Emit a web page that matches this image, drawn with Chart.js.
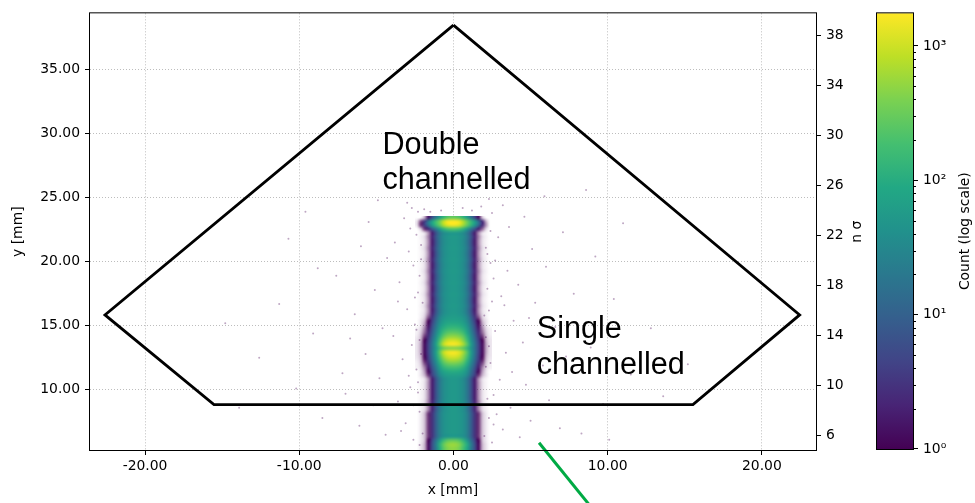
<!DOCTYPE html>
<html><head><meta charset="utf-8">
<script src="https://cdn.jsdelivr.net/npm/chart.js@4.4.1/dist/chart.umd.min.js"></script>
<style>
html,body{margin:0;padding:0;background:#fff;}
#wrap{position:relative;width:975px;height:503px;overflow:hidden;background:#fff;}
#main{position:absolute;left:0;top:0;}
#cbar{position:absolute;left:860px;top:0;}
</style></head><body>
<div id="wrap"><canvas id="main" width="975" height="503"></canvas><canvas id="cbar" width="115" height="503"></canvas></div>
<script>
// ---------- data ----------
const X_TICKS = [-20, -10, 0, 10, 20];
const Y_TICKS = [10, 15, 20, 25, 30, 35];
const NSIGMA_TICKS = [6, 10, 14, 18, 22, 26, 30, 34, 38];
const CB_MAJOR = [1, 10, 100, 1000];
const CB_MAJOR_LABELS = ['10\u2070', '10\u00b9', '10\u00b2', '10\u00b3'];
const CB_MINOR = [2,3,4,5,6,7,8,9,20,30,40,50,60,70,80,90,200,300,400,500,600,700,800,900];
const CB_MIN = 1, CB_MAX = 1750;

const X_RANGE = [-23.57, 23.51];
const Y_RANGE = [5.31, 39.38];
const NSIGMA_RANGE = [4.82, 39.76];

// histogram bin edges (mm)
const X_EDGES = [-2.5,-2.25,-2,-1.75,-1.5,-1.25,-1,-0.75,-0.5,-0.25,0,0.25,0.5,0.75,1,1.25,1.5,1.75,2,2.25,2.5];
const Y_EDGES = [5.3,5.6,5.9,6.2,6.5,6.8,7.1,7.4,7.7,8.0,8.3,8.6,8.9,9.2,9.5,9.8,10.1,10.4,10.7,11.0,11.3,11.6,11.9,12.2,12.5,12.8,13.1,13.4,13.7,14.0,14.3,14.6,14.9,15.2,15.5,15.8,16.1,16.4,16.7,17.0,17.3,17.6,17.9,18.2,18.5,18.8,19.1,19.4,19.7,20.0,20.3,20.6,20.9,21.2,21.5,21.8,22.1,22.4,22.7,23.0,23.3,23.6];

// counts per row profile
const SHAFT_A = [0,.04,.12,.45,1.8,7,20,36,46,52,52,46,36,20,7,1.8,.45,.12,.04,0];
const SHAFT_B = [0,.05,.15,.5,2.2,8,22,38,48,54,54,48,38,22,8,2.2,.5,.15,.05,0];
const SHAFT_W = [0,.08,.25,.8,3,10,26,42,50,55,55,50,42,26,10,3,.8,.25,.08,0];

const COUNTS = [
  [0,.1,.3,1.2,6,22,100,260,420,490,470,360,190,85,22,6,1.2,.3,.1,0],
  [0,.1,.3,1.2,6,25,120,300,480,560,540,420,220,100,25,6,1.2,.3,.1,0],
  [0,.08,.25,1,5,18,65,160,260,300,290,230,130,55,16,4.5,1,.25,.08,0],
  SHAFT_W, SHAFT_W, SHAFT_W, SHAFT_W, SHAFT_W, SHAFT_W,
  SHAFT_W, SHAFT_B, SHAFT_B, SHAFT_B,
  SHAFT_A, SHAFT_A, SHAFT_A, SHAFT_A, SHAFT_A, SHAFT_A,
  [0,.1,.3,.8,4,12,32,52,62,66,66,62,52,32,12,4,.8,.3,.1,0],
  [0,.1,.4,1.2,5,16,45,75,95,102,100,94,74,44,16,5,1.2,.4,.1,0],
  [.05,.15,.5,1.8,7,22,65,125,165,180,178,160,120,62,22,7,1.8,.5,.15,.05],
  [.05,.2,.7,2.5,10,32,105,220,310,350,345,300,210,100,32,10,2.5,.7,.2,.05],
  [.08,.25,.9,3.5,13,45,160,380,600,700,680,560,360,150,45,13,3.5,.9,.25,.08],
  [.1,.3,1.1,4,16,60,230,650,1050,1250,1200,950,500,210,58,16,4,1.1,.3,.1],
  [.1,.35,1.2,4.5,18,70,300,900,1400,1600,1550,1200,650,250,65,18,4.5,1.2,.35,.1],
  [.1,.35,1.2,4.5,17,55,170,320,420,450,440,380,260,140,50,17,4.5,1.2,.35,.1],
  [.1,.35,1.2,4.5,18,70,300,920,1450,1650,1600,1250,680,260,65,18,4.5,1.2,.35,.1],
  [.1,.3,1,3.8,15,55,210,580,950,1100,1050,820,440,180,50,15,3.8,1,.3,.1],
  [.08,.25,.8,3,12,40,130,300,460,530,515,430,285,125,40,12,3,.8,.25,.08],
  [.05,.2,.6,2.4,9,30,90,175,250,280,275,240,170,85,30,9,2.4,.6,.2,.05],
  [.05,.15,.5,1.8,7,23,65,115,150,165,162,146,110,62,23,7,1.8,.5,.15,.05],
  [0,.1,.4,1.3,5.5,18,48,80,100,108,106,98,78,46,18,5.5,1.3,.4,.1,0],
  [0,.1,.3,1,4,14,36,60,72,76,75,70,58,35,14,4,1,.3,.1,0],
  [0,.06,.2,.7,3.2,11,30,48,58,62,62,57,47,29,11,3.2,.7,.2,.06,0],
  SHAFT_B,
  SHAFT_A, SHAFT_B, SHAFT_A, SHAFT_A, SHAFT_B, SHAFT_A, SHAFT_A,
  SHAFT_B, SHAFT_A, SHAFT_A, SHAFT_B, SHAFT_A, SHAFT_A, SHAFT_B,
  SHAFT_A, SHAFT_A, SHAFT_B, SHAFT_A, SHAFT_A, SHAFT_B, SHAFT_A,
  [0,.2,.8,2.5,8,22,60,130,200,230,225,190,120,55,20,7,2,.6,.15,0],
  [.1,.8,4,16,60,150,320,750,1250,1500,1450,1150,620,290,130,50,12,2.5,.4,0],
  [.1,.7,3.5,18,70,180,380,900,1550,1750,1700,1400,720,330,150,60,14,2.5,.3,0],
  [0,0,.3,1.5,6,20,60,140,240,290,280,220,130,60,18,5,1.2,.2,0,0]
];

// sparse single counts around the beam
const NOISE_X = [-2.6,-3.1,-2.2,-3.6,-2.8,-2.4,-3.3,-2.7,-3.9,-2.5,-3.0,-2.3,-3.5,-2.6,-2.9,-3.8,-2.4,-3.2,-2.7,-2.2,-3.4,-2.9,-2.2,-3.6,-2.1,-3.0,
  2.5,3.2,2.3,3.7,2.6,3.0,2.4,3.4,2.7,3.9,2.3,3.1,2.6,3.5,2.2,2.9,3.6,2.5,3.2,2.1,3.8,2.8,2.4,3.3,
  -2.0,-2.3,-2.1,-2.4,-2.0,-2.2,-2.1,-2.3,-2.6,-2.5,-2.8,-2.3,
  2.0,2.2,2.1,2.3,2.0,2.2,2.1,2.4,2.6,2.5,2.7,2.3,
  -1.9,1.8,-0.8,0.6,-1.5,1.2,
  -4.4,-5.2,-6.1,-4.8,-5.7,-7.2,-4.6,-6.4,-5.1,-7.6,-4.3,-6.0,-5.5,-4.9,-7.0,-6.7,
  4.3,5.0,6.2,4.7,5.8,7.3,4.5,6.6,5.3,7.8,4.2,6.0,5.1,7.1,4.6,5.9,6.9,4.9,
  -8.5,-10.2,-12.6,-9.1,-11.3,-8.8,-13.9,-10.7,-9.6,-14.8,
  8.3,9.7,11.5,8.9,12.8,10.4,9.2,13.6,11.0,15.2,8.6,10.1];
const NOISE_Y = [6.1,7.4,8.3,9.1,10.2,11.6,12.4,13.5,14.2,15.1,16.3,17.6,18.4,19.7,20.8,21.5,22.1,23.4,24.2,5.7,6.8,11.1,13.9,16.9,20.2,24.6,
  5.9,6.9,7.8,8.6,9.6,10.8,12.1,12.9,14.6,15.4,16.2,17.3,18.7,19.3,20.6,21.9,22.7,23.8,24.4,14.1,11.4,8.1,19.9,16.6,
  6.6,9.8,12.8,14.7,16.8,18.9,21.3,23.9,8.8,17.2,22.6,10.6,
  6.4,9.3,11.8,13.4,15.8,17.9,21.1,22.4,7.3,16.9,20.1,24.9,
  24.1,24.3,24.0,24.2,23.9,24.0,
  6.5,8.8,7.2,10.9,12.8,11.3,14.8,15.9,17.8,18.9,20.3,21.2,23.1,24.8,9.7,14.0,
  6.3,7.6,9.2,10.4,11.9,12.6,13.7,14.9,16.8,17.5,18.2,19.6,21.0,22.3,23.5,25.1,7.0,15.6,
  7.8,10.1,12.5,14.4,16.7,19.5,8.6,21.8,23.9,15.2,
  6.6,8.9,11.2,13.3,14.8,17.1,20.4,9.5,23.0,12.0,25.6,6.1];

// acceptance polygon and the green line
const POLY_X = [0, 22.45, 15.53, -15.53, -22.6, 0];
const POLY_Y = [38.46, 15.85, 8.85, 8.85, 15.85, 38.46];
const GREEN_X = [5.55, 9.5];
const GREEN_Y = [5.88, 0.0];

const ANNOT_LINES = [['Double', 'channelled'], ['Single', 'channelled']];
const ANNOT_X = [-4.6, 5.4];
const ANNOT_Y = [28.44, 14.02];

// ---------- style ----------
const VIRIDIS = ['#440154','#482475','#414487','#355f8d','#2a788e','#21918c','#22a884','#44bf70','#7ad151','#bddf26','#fde725'];
const TICK_FONT = {family: 'DejaVu Sans', size: 13.9};
function hex2rgb(h){return [parseInt(h.slice(1,3),16),parseInt(h.slice(3,5),16),parseInt(h.slice(5,7),16)];}
const VIR_RGB = VIRIDIS.map(hex2rgb);
function viridisRGB(t){
  t = Math.max(0, Math.min(1, t));
  const f = t * (VIR_RGB.length - 1), i = Math.min(VIR_RGB.length - 2, Math.floor(f)), u = f - i;
  const a = VIR_RGB[i], b = VIR_RGB[i+1];
  return a.map((c,k)=>Math.round(c + (b[k]-c)*u));
}
function cellRGBA(v){
  if (!(v > 0)) return [255,255,255,0];
  if (v < 1) return [68,1,84,Math.round(255*v)];
  const c = viridisRGB(Math.log10(v) / Math.log10(CB_MAX));
  return [c[0],c[1],c[2],255];
}

const heatCells = [];
COUNTS.forEach((row, r) => row.forEach((v, c) => {
  heatCells.push({x:(X_EDGES[c]+X_EDGES[c+1])/2, y:(Y_EDGES[r]+Y_EDGES[r+1])/2,
    x0:X_EDGES[c], x1:X_EDGES[c+1], y0:Y_EDGES[r], y1:Y_EDGES[r+1], v:v, col:c, row:r});
}));

// heat map: one texel per histogram cell, placed by the chart's scales and smoothed
const heatPlugin = {
  id: 'heat',
  beforeDatasetsDraw(chart) {
    const {ctx, chartArea: a} = chart;
    const xs = chart.scales.x, ys = chart.scales.y;
    const nc = X_EDGES.length - 1, nr = Y_EDGES.length - 1;
    const off = document.createElement('canvas');
    off.width = nc; off.height = nr;
    const octx = off.getContext('2d');
    const img = octx.createImageData(nc, nr);
    for (const cell of chart.data.datasets[3].data) {
      const k = ((nr - 1 - cell.row) * nc + cell.col) * 4;
      const rgba = cellRGBA(cell.v);
      img.data[k] = rgba[0]; img.data[k+1] = rgba[1]; img.data[k+2] = rgba[2]; img.data[k+3] = rgba[3];
    }
    octx.putImageData(img, 0, 0);
    const px0 = xs.getPixelForValue(X_EDGES[0]), px1 = xs.getPixelForValue(X_EDGES[nc]);
    const py0 = ys.getPixelForValue(Y_EDGES[0]), py1 = ys.getPixelForValue(Y_EDGES[nr]);
    ctx.save();
    ctx.beginPath(); ctx.rect(a.left, a.top, a.right - a.left, a.bottom - a.top); ctx.clip();
    ctx.imageSmoothingEnabled = true;
    ctx.imageSmoothingQuality = 'high';
    ctx.drawImage(off, px0, py1, px1 - px0, py0 - py1);
    ctx.restore();
  }
};

const decoPlugin = {
  id: 'deco',
  afterDatasetsDraw(chart) {
    const {ctx} = chart;
    const xs = chart.scales.x, ys = chart.scales.y;
    ctx.save();
    ctx.fillStyle = '#000';
    ctx.font = '30.6px "Liberation Sans", Arial, sans-serif';
    ctx.textAlign = 'left'; ctx.textBaseline = 'alphabetic';
    ANNOT_LINES.forEach((lines, i) => {
      const px = xs.getPixelForValue(ANNOT_X[i]), py = ys.getPixelForValue(ANNOT_Y[i]);
      lines.forEach((t, j) => ctx.fillText(t, px, py + j * 35.7));
    });
    ctx.restore();
  },
  afterDraw(chart) {
    const {ctx, chartArea: a} = chart;
    ctx.save();
    ctx.strokeStyle = '#000'; ctx.lineWidth = 1;
    ctx.strokeRect(a.left - 0.5, a.top - 0.5, a.right - a.left + 1, a.bottom - a.top + 1);
    ctx.fillStyle = '#000';
    ctx.font = '13.9px "DejaVu Sans"';
    ctx.textAlign = 'center'; ctx.textBaseline = 'middle';
    ctx.fillText('x [mm]', (a.left + a.right) / 2, 490);
    const cy = (a.top + a.bottom) / 2;
    ctx.save(); ctx.translate(18, cy); ctx.rotate(-Math.PI/2); ctx.fillText('y [mm]', 0, 0); ctx.restore();
    ctx.save(); ctx.translate(857, cy); ctx.rotate(-Math.PI/2); ctx.fillText('n \u03c3', 0, 0); ctx.restore();
    ctx.restore();
  }
};

const gridCommon = {color: '#bdbdbd', lineWidth: 1, tickLength: 5, tickColor: '#000', tickWidth: 1};

new Chart(document.getElementById('main'), {
  type: 'scatter',
  data: {
    datasets: [
      {label: 'polygon', data: POLY_X.map((x, i) => ({x: x, y: POLY_Y[i]})), showLine: true,
       borderColor: '#000', borderWidth: 2.8, pointRadius: 0, fill: false, tension: 0,
       borderJoinStyle: 'miter', order: 0},
      {label: 'green', data: GREEN_X.map((x, i) => ({x: x, y: GREEN_Y[i]})), showLine: true,
       borderColor: '#00aa44', borderWidth: 3, pointRadius: 0, fill: false, clip: false, order: 1},
      {label: 'noise', data: NOISE_X.map((x, i) => ({x: x, y: NOISE_Y[i]})),
       backgroundColor: 'rgba(68,1,84,0.35)', borderWidth: 0, pointRadius: 1, order: 2},
      {label: 'counts', data: heatCells, pointRadius: 0, borderWidth: 0, order: 3}
    ]
  },
  options: {
    responsive: false, animation: false, events: [], devicePixelRatio: 1,
    layout: {padding: {left: 0, right: 105, top: 7, bottom: 0}},
    plugins: {legend: {display: false}, tooltip: {enabled: false}},
    scales: {
      x: {type: 'linear', position: 'bottom', min: X_RANGE[0], max: X_RANGE[1],
          afterBuildTicks: s => { s.ticks = X_TICKS.map(v => ({value: v})); },
          afterFit: s => { s.height = 53; },
          ticks: {callback: v => Number(v).toFixed(2), font: TICK_FONT, color: '#000', padding: 3, maxRotation: 0, autoSkip: false},
          grid: gridCommon, border: {display: false, dash: [1, 2]}},
      y: {type: 'linear', position: 'left', min: Y_RANGE[0], max: Y_RANGE[1],
          afterBuildTicks: s => { s.ticks = Y_TICKS.map(v => ({value: v})); },
          afterFit: s => { s.width = 90; },
          ticks: {callback: v => Number(v).toFixed(2), font: TICK_FONT, color: '#000', padding: 5, autoSkip: false},
          grid: gridCommon, border: {display: false, dash: [1, 2]}},
      y2: {type: 'linear', position: 'right', min: NSIGMA_RANGE[0], max: NSIGMA_RANGE[1],
          afterBuildTicks: s => { s.ticks = NSIGMA_TICKS.map(v => ({value: v})); },
          afterFit: s => { s.width = 54; },
          ticks: {callback: v => String(v), font: TICK_FONT, color: '#000', padding: 5, autoSkip: false},
          grid: Object.assign({}, gridCommon, {drawOnChartArea: false}), border: {display: false}}
    }
  },
  plugins: [heatPlugin, decoPlugin]
});

// ---------- colorbar ----------
const cbPlugin = {
  id: 'cbdeco',
  afterDraw(chart) {
    const {ctx, chartArea: a} = chart;
    const ys = chart.scales.y;
    ctx.save();
    ctx.strokeStyle = '#000'; ctx.lineWidth = 1;
    ctx.strokeRect(a.left - 0.5, a.top - 0.5, a.right - a.left + 1, a.bottom - a.top + 1);
    ctx.beginPath();
    CB_MINOR.forEach(v => {
      const py = Math.round(ys.getPixelForValue(v)) + 0.5;
      ctx.moveTo(a.right, py); ctx.lineTo(a.right + 3, py);
    });
    ctx.stroke();
    ctx.fillStyle = '#000';
    ctx.font = '13.9px "DejaVu Sans"';
    ctx.textAlign = 'center'; ctx.textBaseline = 'middle';
    ctx.translate(105, (a.top + a.bottom) / 2); ctx.rotate(-Math.PI/2);
    ctx.fillText('Count (log scale)', 0, 0);
    ctx.restore();
  }
};

new Chart(document.getElementById('cbar'), {
  type: 'bar',
  data: {labels: [''], datasets: [{data: [[CB_MIN, CB_MAX]], borderWidth: 0,
    categoryPercentage: 1, barPercentage: 1,
    backgroundColor: c => {
      const a = c.chart.chartArea;
      if (!a) return VIRIDIS[5];
      const g = c.chart.ctx.createLinearGradient(0, a.bottom, 0, a.top);
      VIRIDIS.forEach((col, i) => g.addColorStop(i / (VIRIDIS.length - 1), col));
      return g;
    }}]},
  options: {
    responsive: false, animation: false, events: [], devicePixelRatio: 1,
    layout: {padding: {left: 17, top: 6, bottom: 54, right: 0}},
    plugins: {legend: {display: false}, tooltip: {enabled: false}},
    scales: {
      x: {display: false},
      y: {type: 'logarithmic', position: 'right', min: CB_MIN, max: CB_MAX,
          afterBuildTicks: s => { s.ticks = CB_MAJOR.map(v => ({value: v})); },
          afterFit: s => { s.width = 62; },
          ticks: {callback: v => { const i = CB_MAJOR.indexOf(Number(v)); return i >= 0 ? CB_MAJOR_LABELS[i] : ''; },
                  font: TICK_FONT, color: '#000', padding: 5, autoSkip: false},
          grid: {drawOnChartArea: false, tickLength: 5, tickColor: '#000', tickWidth: 1},
          border: {display: false}}
    }
  },
  plugins: [cbPlugin]
});
</script></body></html>
